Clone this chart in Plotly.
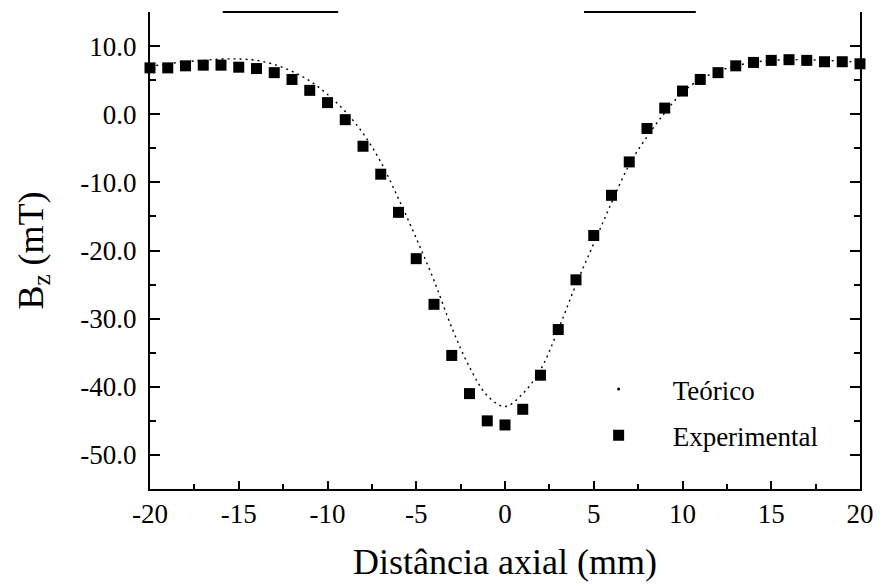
import plotly.graph_objects as go

# Axial field profile: measured points and theoretical curve
distance_mm = list(range(-20, 21))
bz_experimental = [6.8, 6.8, 7.1, 7.2, 7.2, 6.9, 6.7, 6.1, 5.1, 3.5, 1.7,
                   -0.8, -4.7, -8.8, -14.4, -21.2, -27.9, -35.4, -41.0, -45.0,
                   -45.6, -43.3, -38.3, -31.6, -24.3, -17.8, -11.9, -7.0, -2.1,
                   0.9, 3.4, 5.1, 6.1, 7.1, 7.6, 7.9, 8.0, 7.9, 7.7, 7.7, 7.4]
bz_theoretical = [7.0, 7.4, 7.7, 7.9, 8.1, 8.1, 7.9, 7.3, 6.3, 4.9, 2.9,
                  0.4, -2.8, -7.0, -12.4, -18.2, -24.4, -31.3, -37.1, -41.3,
                  -42.9, -41.0, -37.5, -31.6, -25.0, -19.0, -13.0, -7.4, -3.3,
                  0.2, 3.2, 5.1, 6.3, 7.1, 7.6, 7.9, 8.0, 8.0, 7.9, 7.8, 7.6]

x_tickvals = [-20, -15, -10, -5, 0, 5, 10, 15, 20]
x_ticktext = ["-20", "-15", "-10", "-5", "0", "5", "10", "15", "20"]
y_tickvals = [-50, -40, -30, -20, -10, 0, 10]
y_ticktext = ["-50.0", "-40.0", "-30.0", "-20.0", "-10.0", "0.0", "10.0"]

FONT = "Liberation Serif"

fig = go.Figure()
fig.add_trace(go.Scatter(
    x=distance_mm, y=bz_theoretical, mode="lines", name="Teórico",
    showlegend=False,
    line=dict(color="black", width=1.4, dash="2px,4px", shape="spline", smoothing=1.0),
))
# legend entry for the theoretical curve (drawn as a single small dot)
fig.add_trace(go.Scatter(
    x=[None], y=[None], mode="markers", name="Teórico", legendgroup="teo",
    marker=dict(symbol="circle", size=3, color="black"),
))
fig.add_trace(go.Scatter(
    x=distance_mm, y=bz_experimental, mode="markers", name="Experimental",
    legendgroup="exp",
    marker=dict(symbol="square", size=11, color="black"),
    cliponaxis=False,
))

fig.update_layout(
    width=886, height=587,
    margin=dict(l=150, r=22, t=12, b=98),
    paper_bgcolor="white", plot_bgcolor="white",
    font=dict(family=FONT, color="black", size=27),
    showlegend=True,
    legend=dict(
        x=0.584, y=0.26, xanchor="left", yanchor="top",
        bgcolor="rgba(0,0,0,0)",
        itemwidth=98, tracegroupgap=8,
    ),
    xaxis=dict(
        range=[-20, 20], showgrid=False, zeroline=False,
        showline=True, linecolor="black", linewidth=2,
        ticks="inside", ticklen=8, tickwidth=2, tickcolor="black",
        tickvals=x_tickvals, ticktext=x_ticktext,
        minor=dict(ticks="inside", ticklen=5, tickwidth=2, tickcolor="black",
                   tick0=0, dtick=2.5),
        title=dict(text="Distância axial (mm)", font=dict(size=36), standoff=20),
    ),
    yaxis=dict(
        range=[-55, 15], showgrid=False, zeroline=False,
        showline=True, mirror="ticks", linecolor="black", linewidth=2,
        ticks="inside", ticklen=10, tickwidth=2, tickcolor="black",
        tickvals=y_tickvals, ticktext=y_ticktext, ticklabelstandoff=6,
        minor=dict(ticks="inside", ticklen=6, tickwidth=2, tickcolor="black",
                   tick0=0, dtick=5),
        title=dict(text="B<sub>z</sub> (mT)", font=dict(size=36), standoff=26),
    ),
)

# Surviving pieces of the top frame line
for x0, x1 in [(-15.9, -9.4), (4.45, 10.75)]:
    fig.add_shape(type="line", xref="x", yref="paper", x0=x0, x1=x1, y0=1, y1=1,
                  line=dict(color="black", width=2))

fig.write_html("out.html")
